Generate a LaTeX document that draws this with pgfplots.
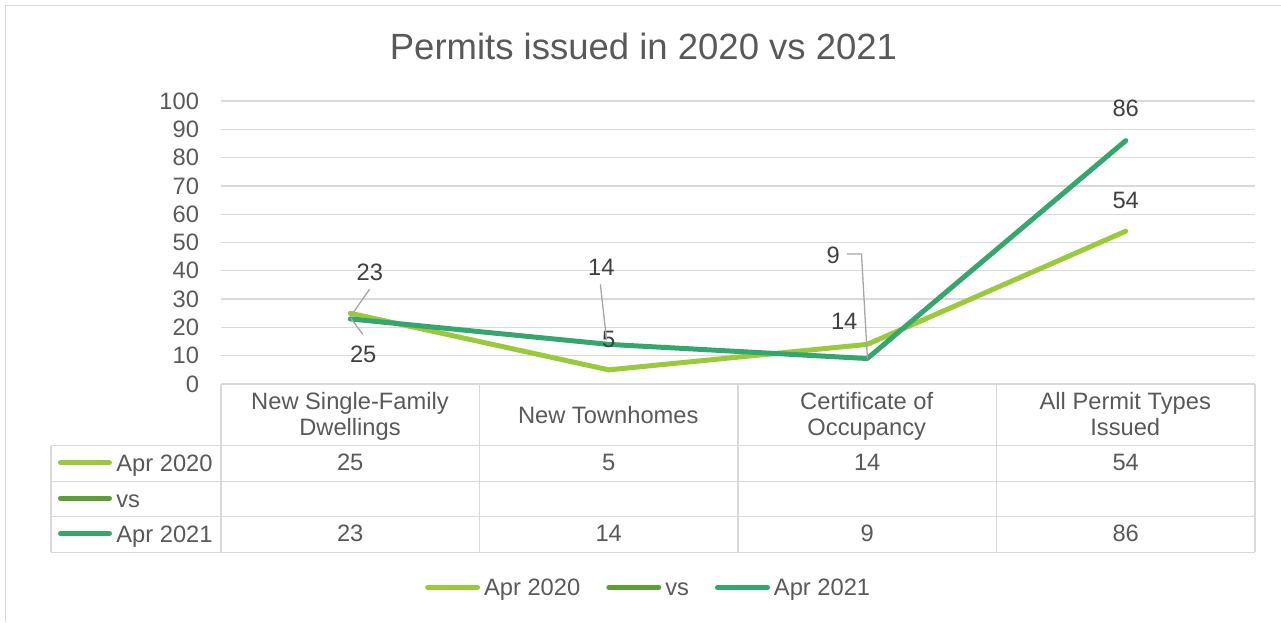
\documentclass[border=0pt]{standalone}
\usepackage{pgfplots}
\pgfplotsset{compat=1.18}
\usepackage{pgfplotstable}
\usepackage{fontspec}
\setmainfont{Liberation Sans}
\definecolor{cA}{HTML}{9ACA3C}
\definecolor{cV}{HTML}{5E9E37}
\definecolor{cB}{HTML}{36A66F}
\definecolor{gridc}{HTML}{D9D9D9}
\definecolor{txt}{HTML}{595959}
\definecolor{lbl}{HTML}{404040}
\definecolor{lead}{HTML}{A6A6A6}
\newcommand\myfs{\fontsize{11.85}{13}\selectfont}

\pgfplotstableread{
x a b adx ady bdx bdy
0 25 23 6.5 -20.5 9.8 23.3
1 5 14 0 15.4 -3.7 38.5
2 14 9 -11.5 11.35 -17 51.75
3 54 86 0 15.5 0 16
}\datatable

\begin{document}
\begin{tikzpicture}
\useasboundingbox (-110.5pt,192pt) rectangle (530pt,-119pt);
\begin{axis}[
  at={(0pt,0pt)}, anchor=south west,
  scale only axis, width=517pt, height=141.5pt,
  xmin=-0.5, xmax=3.5, ymin=0, ymax=100,
  xtick=\empty, ytick={0,10,...,100},
  axis line style={draw=none},
  major tick length=0pt,
  ymajorgrids, grid style={gridc, line width=0.65pt},
  /pgf/number format/assume math mode=true,
  yticklabel style={font=\myfs, text=txt, anchor=east, inner sep=0pt, xshift=-10.8pt},
  clip=false,
  legend columns=3,
  legend image code/.code={\path[draw=none, fill=none] (0pt,-2pt) (27.5pt,2pt); \draw[#1, line width=2.5pt, line cap=round] (1.25pt,0pt) -- (26.25pt,0pt);},
  legend style={draw=none, fill=none, inner sep=0pt, at={(axis description cs:0.197,-0.7184)}, anchor=west,
    nodes={inner sep=0pt, text height=8.5pt, text depth=0pt, font=\myfs, text=txt},
    /tikz/every odd column/.append style={column sep=2pt},
    /tikz/every even column/.append style={column sep=13pt}},
  every node near coord/.append style={font=\myfs, text=lbl, anchor=center, inner sep=0pt},
]
\addplot[cA, line width=2.5pt, line join=round, line cap=round,
  nodes near coords,
  visualization depends on={\thisrow{adx}\as\dx},
  visualization depends on={\thisrow{ady}\as\dy},
  every node near coord/.append style={xshift=\dx pt, yshift=\dy pt}]
  table[x=x,y=a]{\datatable};
\addlegendentry{Apr 2020}
\addlegendimage{cV}
\addlegendentry{vs}
\addplot[cB, line width=2.5pt, line join=round, line cap=round,
  nodes near coords,
  visualization depends on={\thisrow{bdx}\as\dx},
  visualization depends on={\thisrow{bdy}\as\dy},
  every node near coord/.append style={xshift=\dx pt, yshift=\dy pt}]
  table[x=x,y=b]{\datatable};
\addlegendentry{Apr 2021}
% values in the data table
\addplot[draw=none, forget plot, nodes near coords, point meta=explicit,
  every node near coord/.append style={anchor=base, text=txt}]
  table[x=x, y expr=-30.64, meta=a]{\datatable};
\addplot[draw=none, forget plot, nodes near coords, point meta=explicit,
  every node near coord/.append style={anchor=base, text=txt}]
  table[x=x, y expr=-55.72, meta=b]{\datatable};
\end{axis}
\begin{scope}[shift={(-110.5pt,192pt)}, x=0.5pt, y=-0.5pt]
  % chart border
  \draw[gridc, line width=0.7pt] (5.5,622) -- (5.5,5.5) -- (1281,5.5);
  % title
  \node[anchor=base, inner sep=0pt, font=\fontsize{18.25}{22}\selectfont, text=txt] at (643.5,59.5) {Permits issued in 2020 vs 2021};
  % data table grid
  \draw[gridc, line width=0.75pt] (221,384) -- (1255,384);
  \foreach \yy in {445.7,481.7,516.7,552.3} \draw[gridc, line width=0.75pt] (51,\yy) -- (1255,\yy);
  \foreach \xx in {221,479.5,738,996.5,1255} \draw[gridc, line width=0.75pt] (\xx,384) -- (\xx,552.3);
  \draw[gridc, line width=0.75pt] (51,445.7) -- (51,552.3);
  % header labels
  \begin{scope}[every node/.style={anchor=base, inner sep=0pt, font=\myfs, text=txt}]
    \node at (350,409) {New Single-Family};
    \node at (350,435) {Dwellings};
    \node at (608.25,423) {New Townhomes};
    \node at (866.75,409) {Certificate of};
    \node at (866.75,435) {Occupancy};
    \node at (1125.25,409) {All Permit Types};
    \node at (1125.25,435) {Issued};
  \end{scope}
  % row legend keys
  \draw[cA, line width=2.5pt, line cap=round] (60.5,462.7) -- (109.5,462.7);
  \draw[cV, line width=2.5pt, line cap=round] (60.5,498.2) -- (109.5,498.2);
  \draw[cB, line width=2.5pt, line cap=round] (60.5,533.5) -- (109.5,533.5);
  \begin{scope}[every node/.style={anchor=base west, inner sep=0pt, font=\myfs, text=txt}]
    \node at (116,471.7) {Apr 2020};
    \node at (116,507.2) {vs};
    \node at (116,542.5) {Apr 2021};
  \end{scope}
  % leader lines of the data labels
  \begin{scope}[lead, line width=0.65pt]
    \draw (369.6,289.3) -- (350.8,316);
    \draw (350.8,318.3) -- (362.9,334.3);
    \draw (600.4,284.3) -- (606.6,340);
    \draw (847.2,254) -- (861.5,254) -- (867.4,358.3);
  \end{scope}
\end{scope}
\end{tikzpicture}
\end{document}
